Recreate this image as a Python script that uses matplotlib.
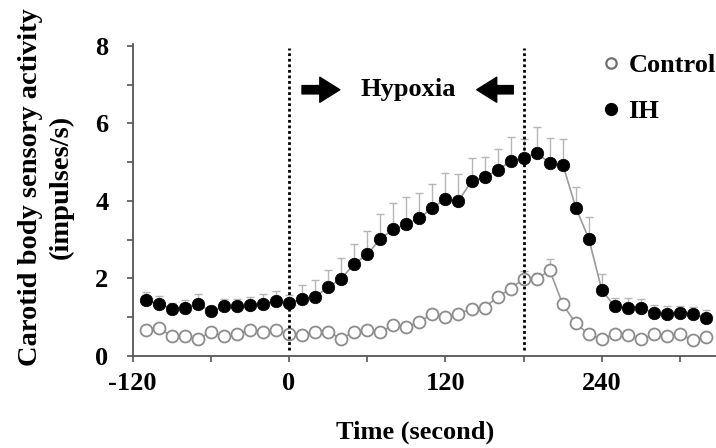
import matplotlib
matplotlib.use("Agg")
import matplotlib.pyplot as plt
from matplotlib.lines import Line2D
from matplotlib.ticker import MultipleLocator, FixedLocator

plt.rcParams['font.family'] = ['Liberation Serif', 'DejaVu Serif']
plt.rcParams['font.weight'] = 'bold'

time_s = [-110, -100, -90, -80, -70, -60, -50, -40, -30, -20, -10, 0,
          10, 20, 30, 40, 50, 60, 70, 80, 90, 100, 110, 120, 130, 140, 150,
          160, 170, 180, 190, 200, 210, 220, 230, 240, 250, 260, 270, 280,
          290, 300, 310, 320]

ih_mean = [1.44, 1.35, 1.22, 1.25, 1.35, 1.15, 1.28, 1.28, 1.31, 1.35, 1.42, 1.37,
           1.48, 1.52, 1.78, 1.99, 2.38, 2.62, 3.02, 3.27, 3.40, 3.55, 3.83, 4.04,
           4.00, 4.51, 4.62, 4.79, 5.03, 5.11, 5.24, 4.98, 4.94, 3.83, 3.02, 1.69,
           1.28, 1.25, 1.25, 1.11, 1.09, 1.11, 1.08, 0.99]
ih_err = [0.22, 0.20, 0.15, 0.20, 0.25, 0.15, 0.18, 0.20, 0.20, 0.25, 0.25, 0.20,
          0.34, 0.43, 0.44, 0.53, 0.51, 0.61, 0.64, 0.69, 0.71, 0.65, 0.61, 0.69,
          0.70, 0.60, 0.51, 0.56, 0.61, 0.50, 0.68, 0.64, 0.66, 0.53, 0.57, 0.43,
          0.21, 0.24, 0.22, 0.20, 0.20, 0.18, 0.18, 0.19]

ctrl_mean = [0.67, 0.73, 0.51, 0.51, 0.43, 0.62, 0.51, 0.56, 0.67, 0.62, 0.67, 0.56,
             0.54, 0.62, 0.62, 0.45, 0.62, 0.67, 0.62, 0.79, 0.75, 0.88, 1.09, 1.01,
             1.09, 1.22, 1.25, 1.52, 1.74, 1.99, 1.99, 2.21, 1.33, 0.84, 0.56, 0.43,
             0.58, 0.54, 0.43, 0.56, 0.51, 0.56, 0.41, 0.50]
ctrl_err = [0.08, 0.08, 0.06, 0.06, 0.06, 0.07, 0.06, 0.06, 0.07, 0.07, 0.07, 0.06,
            0.06, 0.07, 0.07, 0.06, 0.07, 0.07, 0.07, 0.08, 0.08, 0.09, 0.10, 0.10,
            0.10, 0.12, 0.12, 0.14, 0.15, 0.20, 0.15, 0.28, 0.15, 0.10, 0.07, 0.06,
            0.07, 0.07, 0.06, 0.07, 0.07, 0.07, 0.06, 0.07]

hypoxia_bounds = [0, 180]
x_ticks = [-120, 0, 120, 240]
y_ticks = [0, 2, 4, 6, 8]

fig = plt.figure(figsize=(7.16, 4.48), dpi=100)
ax = fig.add_axes([132.5 / 716, 92 / 448, 583.5 / 716, 312 / 448])

line_col = '#9a9a9a'
err_col = '#b5b5b5'
zeros = [0] * len(time_s)

ax.errorbar(time_s, ctrl_mean, yerr=[zeros, ctrl_err], fmt='none', ecolor=err_col,
            elinewidth=1.0, capsize=3, capthick=1.0, zorder=2)
ax.errorbar(time_s, ih_mean, yerr=[zeros, ih_err], fmt='none', ecolor=err_col,
            elinewidth=1.0, capsize=3, capthick=1.0, zorder=2)
ax.plot(time_s, ctrl_mean, color=line_col, lw=1.2, zorder=3,
        marker='o', ms=8.6, mfc='white', mec='#8c8c8c', mew=1.3)
ax.plot(time_s, ih_mean, color=line_col, lw=1.2, zorder=4,
        marker='o', ms=9.0, mfc='black', mec='black', mew=0.5)

ax.vlines(hypoxia_bounds, 0.15, 7.95, colors='black', lw=2.0,
          linestyles=(0, (1, 1)), zorder=5)

ax.text(91.6, 6.87, 'Hypoxia', fontsize=19, fontweight='bold', ha='center', va='center')
arrow_style = 'simple,head_length=0.72,head_width=0.9,tail_width=0.3'
ax.annotate('', xy=(39, 6.87), xytext=(10, 6.87),
            arrowprops=dict(arrowstyle=arrow_style, color='black', mutation_scale=20,
                            shrinkA=0, shrinkB=0))
ax.annotate('', xy=(144, 6.87), xytext=(172, 6.87),
            arrowprops=dict(arrowstyle=arrow_style, color='black', mutation_scale=20,
                            shrinkA=0, shrinkB=0))

ax.set_xlim(-120, 327.5)
ax.set_ylim(0, 8.05)
ax.xaxis.set_major_locator(FixedLocator(x_ticks))
ax.xaxis.set_minor_locator(MultipleLocator(60))
ax.yaxis.set_major_locator(FixedLocator(y_ticks))
ax.yaxis.set_minor_locator(MultipleLocator(1))
ax.set_xticklabels([str(v) for v in x_ticks])
ax.set_yticklabels([str(v) for v in y_ticks])

for s in ['top', 'right']:
    ax.spines[s].set_visible(False)
for s in ['left', 'bottom']:
    ax.spines[s].set_color('#555555')
    ax.spines[s].set_linewidth(1.3)

ax.tick_params(axis='both', which='both', direction='out', length=4.3, width=1.2,
               color='#555555', labelsize=19)
ax.tick_params(axis='x', which='both', pad=7)
ax.tick_params(axis='y', which='both', pad=13)
for lab in ax.get_xticklabels() + ax.get_yticklabels():
    lab.set_fontweight('bold')

ax.set_xlabel('Time (second)', fontsize=19, fontweight='bold')
ax.xaxis.label.set_va('center')
ax.xaxis.set_label_coords((415 - 132.5) / 583.5, (356 - 432) / 312)

fig.text(46 / 716, 1 - 187 / 448, 'Carotid body sensory activity\n(impulses/s)',
         rotation=90, ha='center', va='center', multialignment='center',
         fontsize=20.5, fontweight='bold', linespacing=1.3)

handles = [Line2D([], [], ls='none', marker='o', ms=7.5, mfc='white', mec='#707070', mew=1.6),
           Line2D([], [], ls='none', marker='o', ms=8.5, mfc='black', mec='black')]
leg = fig.legend(handles, ['Control', 'IH'], loc='upper left',
                 bbox_to_anchor=(598 / 716, 1 - 54 / 448), frameon=False,
                 prop={'size': 19, 'weight': 'bold'}, handlelength=1.0,
                 handletextpad=0.15, borderpad=0, borderaxespad=0, labelspacing=0.85)

fig.savefig('out.png', dpi=100)
